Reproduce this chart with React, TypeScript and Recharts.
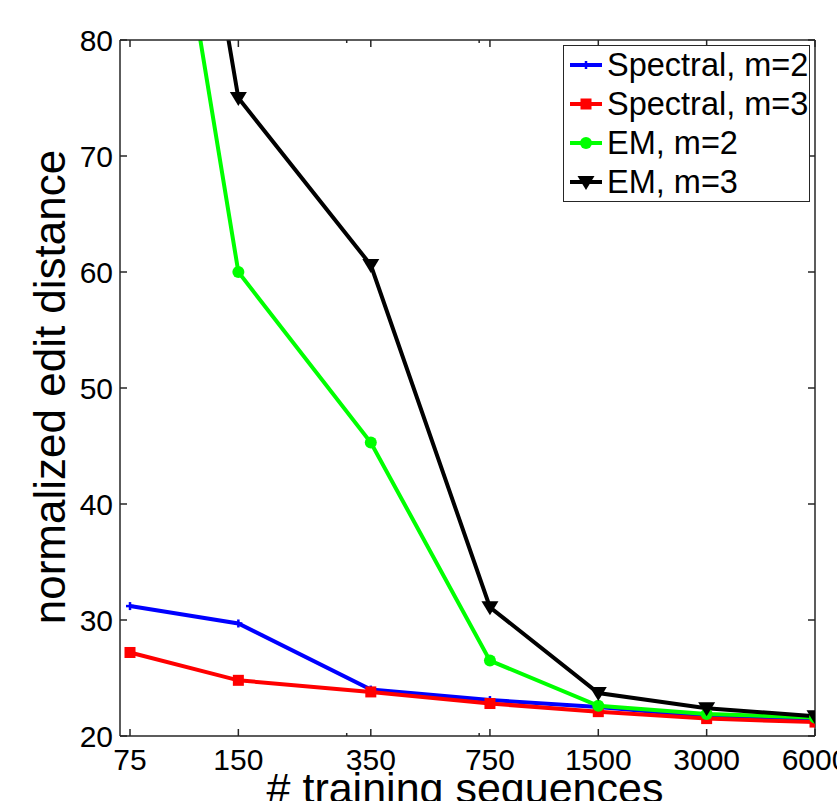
import { LineChart, Line, XAxis, YAxis, Legend } from "recharts";

// training set sizes (log x axis)
const sizes = [75, 150, 350, 750, 1500, 3000, 6000];
const spectral2 = [31.2, 29.7, 24.0, 23.1, 22.5, 21.7, 21.5];
const spectral3 = [27.2, 24.8, 23.8, 22.8, 22.1, 21.5, 21.2];
const em2 = [117, 60.0, 45.3, 26.5, 22.6, 21.9, 21.6];
const em3 = [130, 75.0, 60.6, 31.1, 23.7, 22.4, 21.7];

const xMajor = [75, 150, 350, 750, 1500, 3000, 6000];
const xMinor = [300, 700];
const yTicks = [20, 30, 40, 50, 60, 70, 80];

const data = sizes.map((n, i) => ({
  n,
  s2: spectral2[i],
  s3: spectral3[i],
  e2: em2[i],
  e3: em3[i],
}));

const series = [
  { key: "s2", name: "Spectral, m=2", color: "#0000ff", marker: "plus" },
  { key: "s3", name: "Spectral, m=3", color: "#ff0000", marker: "square" },
  { key: "e2", name: "EM, m=2", color: "#00ff00", marker: "circle" },
  { key: "e3", name: "EM, m=3", color: "#000000", marker: "tri" },
];

const AXIS = "#262626";
const FONT = "'Liberation Sans', Arial, Helvetica, sans-serif";
const xTicks = [...xMajor, ...xMinor].sort((a, b) => a - b);

function Marker({ kind, cx, cy, color }: { kind: string; cx: number; cy: number; color: string }) {
  if (kind === "plus")
    return (
      <g stroke={color} strokeWidth={2.5}>
        <line x1={cx - 4} x2={cx + 4} y1={cy} y2={cy} />
        <line x1={cx} x2={cx} y1={cy - 4} y2={cy + 4} />
      </g>
    );
  if (kind === "square") return <rect x={cx - 5.5} y={cy - 5.5} width={11} height={11} fill={color} />;
  if (kind === "circle") return <circle cx={cx} cy={cy} r={6} fill={color} />;
  return <path d={`M${cx - 8.5},${cy - 6} L${cx + 8.5},${cy - 6} L${cx},${cy + 8} Z`} fill={color} />;
}

const XTick = ({ x, y, payload, top }: any) => {
  const major = xMajor.includes(payload.value);
  const len = major ? 7 : 3;
  return (
    <g>
      <line x1={x} x2={x} y1={y} y2={top ? y + len : y - len} stroke={AXIS} strokeWidth={1.5} />
      {major && !top && (
        <text x={x} y={y + 34} textAnchor="middle" fontSize={30} fontFamily={FONT} fill="#000">
          {payload.value}
        </text>
      )}
    </g>
  );
};

const YTick = ({ x, y, payload, right }: any) => (
  <g>
    <line x1={x} x2={right ? x - 7 : x + 7} y1={y} y2={y} stroke={AXIS} strokeWidth={1.5} />
    {!right && (
      <text x={x - 7} y={y + 11} textAnchor="end" fontSize={30} fontFamily={FONT} fill="#000">
        {payload.value}
      </text>
    )}
  </g>
);

const LegendBox = () => (
  <svg width={247} height={157} style={{ display: "block" }}>
    <rect x={0.5} y={0.5} width={246} height={156} fill="#fff" stroke={AXIS} strokeWidth={1} />
    {series.map((s, i) => {
      const cy = 20 + i * 39;
      return (
        <g key={s.key}>
          <line x1={7} x2={39} y1={cy} y2={cy} stroke={s.color} strokeWidth={4} />
          <Marker kind={s.marker} cx={23} cy={cy} color={s.color} />
          <text x={44} y={cy + 11} fontSize={32.5} fontFamily={FONT} fill="#000">
            {s.name}
          </text>
        </g>
      );
    })}
  </svg>
);

export default function App() {
  return (
    <div style={{ position: "relative", width: 837, height: 801 }}>
      <style>{`body{margin:0;overflow:hidden}`}</style>
      <LineChart width={837} height={801} data={data} margin={{ top: 0, right: 0, bottom: 0, left: 0 }}>
        <XAxis
          xAxisId="b"
          dataKey="n"
          type="number"
          scale="log"
          domain={[70.35, 6000]}
          allowDataOverflow
          ticks={xTicks}
          interval={0}
          height={65}
          tickSize={0}
          tickMargin={0}
          stroke={AXIS}
          strokeWidth={1.5}
          tickLine={false}
          tick={<XTick />}
          label={() => (
            <text x={465} y={803} textAnchor="middle" fontSize={43} fontFamily={FONT} fill="#000">
              # training sequences
            </text>
          )}
        />
        <XAxis
          xAxisId="t"
          orientation="top"
          dataKey="n"
          type="number"
          scale="log"
          domain={[70.35, 6000]}
          allowDataOverflow
          ticks={xTicks}
          interval={0}
          height={40}
          tickSize={0}
          tickMargin={0}
          stroke={AXIS}
          strokeWidth={1.5}
          tickLine={false}
          tick={<XTick top />}
        />
        <YAxis
          yAxisId="l"
          domain={[20, 80]}
          allowDataOverflow
          ticks={yTicks}
          interval={0}
          width={120}
          tickSize={0}
          tickMargin={0}
          stroke={AXIS}
          strokeWidth={1.5}
          tickLine={false}
          tick={<YTick />}
          label={() => (
            <text
              x={65}
              y={387}
              transform="rotate(-90 65 387)"
              textAnchor="middle"
              fontSize={44}
              fontFamily={FONT}
              fill="#000"
            >
              normalized edit distance
            </text>
          )}
        />
        <YAxis
          yAxisId="r"
          orientation="right"
          domain={[20, 80]}
          allowDataOverflow
          ticks={yTicks}
          interval={0}
          width={22}
          tickSize={0}
          tickMargin={0}
          stroke={AXIS}
          strokeWidth={1.5}
          tickLine={false}
          tick={<YTick right />}
        />
        <Legend
          layout="vertical"
          align="center"
          verticalAlign="middle"
          content={() => <LegendBox />}
          wrapperStyle={{ position: "absolute", left: 563, top: 45, width: 247, height: 157 }}
        />
        {series.map((s) => (
          <Line
            key={s.key}
            xAxisId="b"
            yAxisId="l"
            dataKey={s.key}
            name={s.name}
            type="linear"
            stroke={s.color}
            strokeWidth={4}
            isAnimationActive={false}
            dot={(p: any) => <Marker key={`${s.key}-${p.index}`} kind={s.marker} cx={p.cx} cy={p.cy} color={s.color} />}
            activeDot={false}
          />
        ))}
      </LineChart>
    </div>
  );
}
